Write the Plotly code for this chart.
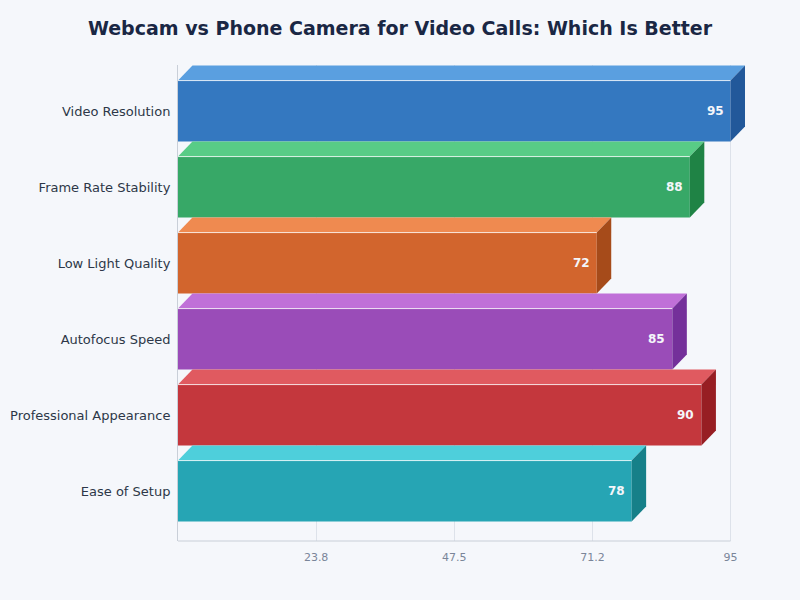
import plotly.graph_objects as go

# data (top to bottom as shown)
categories = ["Video Resolution", "Frame Rate Stability", "Low Light Quality",
              "Autofocus Speed", "Professional Appearance", "Ease of Setup"]
scores = [95, 88, 72, 85, 90, 78]
x_tick_text = ["23.8", "47.5", "71.2", "95"]

front_colors = ["#3478c0", "#37a867", "#d2652d", "#9a4cb8", "#c4373d", "#26a5b4"]
top_colors = ["#5a9fe0", "#58cc86", "#ef8a50", "#c070d8", "#e05a60", "#4ecfdb"]
side_colors = ["#22589a", "#1f8345", "#a64b1a", "#74309a", "#971e23", "#168089"]

FONT = "DejaVu Sans"
BG = "#f5f7fb"
BAR_W = 0.8
DEPTH_X = 2.49   # 3d offset along value axis
DEPTH_Y = 0.197  # 3d offset along category axis

n = len(categories)
pos = list(range(n - 1, -1, -1))
vmax = max(scores)

fig = go.Figure()

fig.add_trace(go.Bar(
    y=pos, x=scores, orientation="h", width=BAR_W,
    marker=dict(color=front_colors, line=dict(width=0)),
    hoverinfo="skip", showlegend=False,
))

for i, (p, v) in enumerate(zip(pos, scores)):
    top = p + BAR_W / 2
    bot = p - BAR_W / 2
    # top face
    fig.add_trace(go.Scatter(
        x=[0, v, v + DEPTH_X, DEPTH_X, 0],
        y=[top, top, top + DEPTH_Y, top + DEPTH_Y, top],
        fill="toself", fillcolor=top_colors[i], mode="lines",
        line=dict(width=0, color=top_colors[i]),
        hoverinfo="skip", showlegend=False,
    ))
    # side face
    fig.add_trace(go.Scatter(
        x=[v, v + DEPTH_X, v + DEPTH_X, v, v],
        y=[bot, bot + DEPTH_Y, top + DEPTH_Y, top, bot],
        fill="toself", fillcolor=side_colors[i], mode="lines",
        line=dict(width=0, color=side_colors[i]),
        hoverinfo="skip", showlegend=False,
    ))
    # highlight edge
    fig.add_trace(go.Scatter(
        x=[0, v], y=[top, top], mode="lines",
        line=dict(width=1, color="rgba(255,255,255,0.75)"),
        hoverinfo="skip", showlegend=False,
    ))
    fig.add_annotation(
        x=v, y=p, text=f"<b>{v}</b>", showarrow=False,
        xanchor="right", xshift=-5,
        font=dict(family=FONT, size=12, color="#f4f6fa"),
    )

# bottom axis line up to the max tick
fig.add_shape(type="line", xref="x", yref="paper", x0=0, x1=vmax, y0=0, y1=0,
              line=dict(color="#c9cfd8", width=1))

fig.update_layout(
    width=800, height=600,
    paper_bgcolor=BG, plot_bgcolor=BG,
    margin=dict(l=178, r=55, t=65, b=59),
    title=dict(text="<b>Webcam vs Phone Camera for Video Calls: Which Is Better</b>",
               x=0.5, xanchor="center", y=0.953, yanchor="middle",
               font=dict(family=FONT, size=19, color="#1a2744")),
    font=dict(family=FONT),
    bargap=0.2,
)

fig.update_xaxes(
    range=[0, vmax + DEPTH_X],
    tickvals=[vmax * (k + 1) / 4 for k in range(4)],
    ticktext=x_tick_text,
    showgrid=True, gridcolor="#dde2ea", gridwidth=1,
    zeroline=False, showline=False, automargin=False,
    ticks="outside", ticklen=6, tickcolor="rgba(0,0,0,0)",
    tickfont=dict(family=FONT, size=11, color="#7a8599"),
    fixedrange=True,
)

fig.update_yaxes(
    range=[-0.658, 5.605],
    tickvals=pos, ticktext=categories,
    showgrid=False, zeroline=False, automargin=False,
    showline=True, linecolor="#c9cfd8", linewidth=1,
    ticks="outside", ticklen=4, tickcolor="rgba(0,0,0,0)",
    tickfont=dict(family=FONT, size=13, color="#2d3748"),
    fixedrange=True,
)

fig.write_html("out.html", config={"displayModeBar": False},
               post_script="document.body.style.margin='0';")
